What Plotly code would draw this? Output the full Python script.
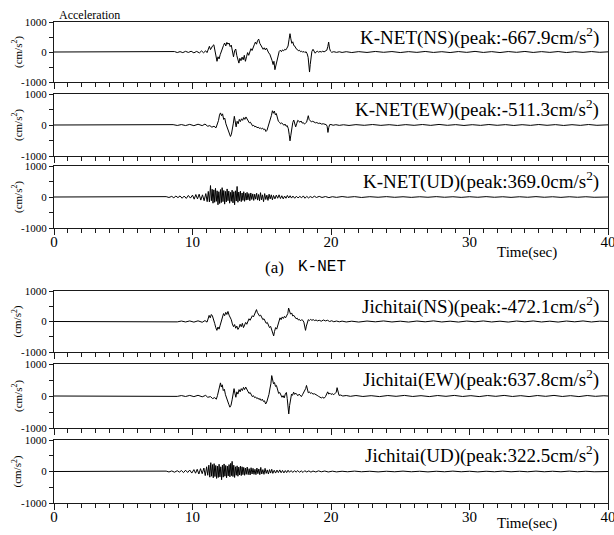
import plotly.graph_objects as go

# ---------------- data (time [s], acceleration [cm/s^2]) ----------------
knet_ns = [(0,0),(7.6,0),(7.9,5),(8.1,-8),(8.3,12),(8.5,-10),(8.7,15),(8.9,-18),(9.1,12),(9.3,-20),(9.5,22),(9.7,-15),(9.9,25),(10.1,-28),(10.3,20),(10.5,-30),(10.65,35),(10.8,-25),(10.95,40),(11.05,-20),
(11.15,120),(11.22,190),(11.3,80),(11.38,160),(11.46,210),(11.54,240),(11.62,60),(11.7,-180),(11.77,-310),(11.84,-160),(11.92,-230),(12.0,-90),(12.08,40),(12.16,130),(12.24,220),(12.32,300),(12.4,200),(12.48,320),(12.56,260),(12.64,300),(12.72,180),(12.8,230),(12.88,-50),(12.96,-160),(13.04,40),(13.12,100),(13.2,-120),(13.28,-280),(13.35,-370),(13.42,-210),(13.5,-290),(13.58,-170),(13.66,-260),(13.74,-110),(13.82,-310),(13.9,-160),(13.98,-20),(14.06,-110),(14.14,30),(14.22,110),(14.3,50),(14.38,180),(14.46,240),(14.54,330),(14.62,260),(14.7,380),(14.78,430),(14.86,290),(14.94,210),(15.02,180),(15.1,90),(15.18,140),(15.26,70),(15.34,130),(15.42,30),(15.5,-30),(15.58,-70),(15.66,-150),(15.74,-280),(15.82,-420),(15.88,-310),(15.95,-590),(16.02,-430),(16.1,-240),(16.18,-90),(16.26,20),(16.34,60),(16.42,10),(16.5,70),(16.58,40),(16.66,90),(16.74,70),(16.82,130),(16.9,200),(16.97,410),(17.04,610),(17.1,440),(17.17,290),(17.24,340),(17.32,210),(17.4,190),(17.48,110),(17.56,90),(17.64,40),(17.72,60),(17.8,10),(17.88,30),(17.96,-10),(18.04,20),(18.12,-20),(18.2,10),(18.28,-60),(18.35,-180),(18.41,-450),(18.45,-668),(18.5,-420),(18.56,-220),(18.62,20),(18.7,90),(18.78,30),(18.86,-40),(18.94,10),(19.02,30),(19.1,-10),(19.2,20),(19.3,0),(19.4,25),(19.5,5),(19.6,30),(19.7,60),(19.77,180),(19.83,330),(19.89,130),(19.96,30),(20.05,-10),(20.2,10),(20.4,-12),(20.6,8),(20.8,-15),(21.1,10),(21.5,-18),(22.0,12),(22.6,-15),(23.2,18),(23.8,-10),(24.4,15),(25.0,-18),(25.6,12),(26.2,-12),(26.8,18),(27.4,-15),(28.0,10),(28.6,-18),(29.2,15),(29.8,-12),(30.4,20),(31.0,-15),(31.6,12),(32.2,-18),(32.8,15),(33.4,-10),(34.0,18),(34.6,-15),(35.2,12),(35.8,-12),(36.4,15),(37.0,-18),(37.6,10),(38.2,-12),(38.8,15),(39.4,-10),(40.0,5)]

knet_ew = [(0,0),(7.6,0),(8.0,6),(8.3,-10),(8.6,12),(8.9,-15),(9.2,14),(9.5,-18),(9.8,20),(10.1,-22),(10.4,25),(10.7,-20),(10.9,30),(11.1,-40),(11.25,-20),(11.4,-70),(11.55,-40),(11.7,-90),(11.8,20),(11.88,150),(11.95,320),(12.02,390),(12.1,300),(12.17,360),(12.25,180),(12.33,220),(12.41,40),(12.5,-80),(12.58,-160),(12.66,-250),(12.74,-370),(12.81,-300),(12.88,-150),(12.95,60),(13.02,280),(13.08,120),(13.15,-60),(13.22,120),(13.3,40),(13.38,180),(13.46,110),(13.54,200),(13.62,150),(13.7,240),(13.78,180),(13.86,260),(13.94,200),(14.02,160),(14.1,70),(14.18,90),(14.26,10),(14.34,-30),(14.42,-10),(14.5,-60),(14.58,-40),(14.66,-90),(14.74,-70),(14.82,-110),(14.9,-90),(14.98,-130),(15.06,-100),(15.14,-150),(15.22,-130),(15.3,-210),(15.38,-170),(15.46,-60),(15.54,40),(15.62,200),(15.7,310),(15.77,460),(15.84,380),(15.91,450),(15.98,330),(16.05,370),(16.12,260),(16.2,120),(16.28,90),(16.36,40),(16.44,70),(16.52,20),(16.6,-10),(16.68,30),(16.76,-40),(16.84,-20),(16.92,-120),(16.98,-300),(17.04,-511),(17.1,-330),(17.17,-100),(17.24,80),(17.31,160),(17.38,60),(17.45,-60),(17.52,40),(17.6,150),(17.68,120),(17.76,90),(17.84,130),(17.92,60),(18.0,80),(18.08,30),(18.16,60),(18.24,90),(18.3,200),(18.36,300),(18.42,180),(18.5,120),(18.58,100),(18.68,120),(18.78,90),(18.88,70),(18.98,80),(19.08,50),(19.2,60),(19.32,30),(19.44,40),(19.56,20),(19.66,10),(19.72,-40),(19.78,-240),(19.84,-80),(19.9,10),(20.0,15),(20.15,-8),(20.35,10),(20.6,-12),(20.9,8),(21.3,-15),(21.8,12),(22.4,-10),(23.0,15),(23.6,-12),(24.2,10),(24.8,-15),(25.4,12),(26.0,-10),(26.6,15),(27.2,-12),(27.8,18),(28.4,-10),(29.0,12),(29.6,-15),(30.2,10),(30.8,-12),(31.4,15),(32.0,-10),(32.6,12),(33.2,-15),(33.8,10),(34.4,-12),(35.0,15),(35.6,-10),(36.2,12),(36.8,-15),(37.4,10),(38.0,-12),(38.6,15),(39.2,-10),(40.0,5)]

knet_ud = [(0,0),(7.4,0),(7.7,8),(7.9,-10),(8.1,12),(8.3,-15),(8.5,20),(8.65,-25),(8.8,30),(8.95,-20),(9.1,35),(9.25,-40),(9.4,30),(9.55,-45),(9.7,50),(9.85,-35),(10.0,60),(10.12,-70),(10.24,80),(10.36,-60),(10.48,90),(10.6,-100),(10.72,70),(10.84,-120),(10.96,110),(11.06,-150),(11.14,180),(11.22,-160),(11.3,369),(11.36,-120),(11.42,250),(11.48,-200),(11.54,230),(11.6,-170),(11.66,280),(11.72,-140),(11.78,200),(11.84,-250),(11.9,170),(11.96,-210),(12.02,240),(12.08,-180),(12.14,300),(12.2,-150),(12.26,210),(12.32,-230),(12.38,180),(12.44,-160),(12.5,260),(12.56,-120),(12.62,190),(12.68,-200),(12.74,150),(12.8,-140),(12.86,220),(12.92,-190),(12.98,170),(13.04,-250),(13.1,200),(13.16,-130),(13.22,340),(13.28,-170),(13.34,160),(13.4,-120),(13.46,190),(13.52,-150),(13.58,130),(13.64,-110),(13.7,170),(13.76,-140),(13.82,120),(13.88,-100),(13.94,150),(14.0,-90),(14.07,110),(14.14,-120),(14.21,130),(14.28,-80),(14.35,100),(14.42,-110),(14.49,90),(14.56,-70),(14.63,120),(14.7,-100),(14.77,80),(14.84,-120),(14.91,140),(14.98,-90),(15.05,70),(15.13,-150),(15.21,110),(15.29,-80),(15.37,60),(15.45,-110),(15.53,90),(15.61,-60),(15.69,70),(15.77,-90),(15.85,50),(15.95,-60),(16.05,60),(16.15,-40),(16.25,70),(16.35,-50),(16.45,40),(16.55,-60),(16.65,30),(16.75,-40),(16.85,50),(16.95,-30),(17.05,40),(17.15,-35),(17.25,30),(17.38,-40),(17.5,25),(17.62,-30),(17.75,20),(17.88,-25),(18.0,35),(18.12,-40),(18.25,20),(18.38,-30),(18.5,15),(18.65,-20),(18.8,25),(18.95,-15),(19.15,20),(19.35,-15),(19.6,15),(19.85,-20),(20.1,10),(20.4,-12),(20.8,15),(21.2,-8),(21.7,12),(22.2,-15),(22.8,10),(23.4,-8),(24.0,12),(24.6,-10),(25.2,8),(25.8,-12),(26.4,8),(27.0,-8),(27.6,12),(28.2,-8),(28.8,8),(29.4,-12),(30.0,8),(30.6,-8),(31.2,12),(31.8,-8),(32.4,8),(33.0,-12),(33.6,8),(34.2,-8),(34.8,12),(35.4,-8),(36.0,8),(36.6,-12),(37.2,8),(37.8,-8),(38.4,8),(39.0,-8),(39.6,8),(40.0,0)]

jichi_ns = [(0,0),(7.6,0),(8.0,5),(8.3,-8),(8.6,10),(8.9,-12),(9.2,15),(9.5,-15),(9.8,18),(10.1,-20),(10.4,22),(10.7,-25),(10.9,30),(11.05,-20),(11.12,80),(11.2,200),(11.28,120),(11.36,230),(11.44,180),(11.52,90),(11.6,-60),(11.68,-200),(11.76,-290),(11.84,-180),(11.92,-250),(12.0,-120),(12.08,20),(12.16,150),(12.24,260),(12.32,190),(12.4,300),(12.48,230),(12.56,330),(12.64,210),(12.72,150),(12.8,60),(12.88,-80),(12.96,-170),(13.04,-100),(13.12,-220),(13.2,-150),(13.28,-260),(13.36,-200),(13.44,-90),(13.52,-170),(13.6,-60),(13.68,-200),(13.76,-110),(13.84,-30),(13.92,-90),(14.0,20),(14.08,90),(14.16,40),(14.24,130),(14.32,190),(14.4,150),(14.48,250),(14.56,330),(14.62,390),(14.68,300),(14.76,250),(14.84,180),(14.92,210),(15.0,130),(15.08,60),(15.16,90),(15.24,-20),(15.32,-60),(15.4,-30),(15.48,-120),(15.56,-200),(15.64,-160),(15.72,-300),(15.8,-380),(15.86,-472),(15.92,-330),(16.0,-200),(16.08,-250),(16.16,-100),(16.24,40),(16.32,120),(16.4,60),(16.48,150),(16.56,100),(16.64,170),(16.72,120),(16.8,200),(16.88,260),(16.94,440),(17.0,330),(17.08,240),(17.16,280),(17.24,180),(17.32,200),(17.4,120),(17.48,90),(17.56,110),(17.64,50),(17.72,70),(17.8,20),(17.88,60),(17.96,40),(18.04,-20),(18.1,-120),(18.16,-290),(18.22,-150),(18.28,-20),(18.36,60),(18.44,30),(18.52,70),(18.62,40),(18.72,60),(18.82,30),(18.92,50),(19.02,20),(19.15,40),(19.3,10),(19.45,50),(19.6,20),(19.75,40),(19.9,0),(20.05,25),(20.2,-8),(20.4,15),(20.6,-10),(20.8,12),(21.1,-15),(21.5,10),(22.0,-18),(22.6,15),(23.2,-10),(23.8,18),(24.4,-15),(25.0,10),(25.6,-18),(26.2,15),(26.8,-10),(27.4,20),(28.0,-15),(28.6,10),(29.2,-18),(29.8,15),(30.4,-10),(31.0,18),(31.6,-15),(32.2,10),(32.8,-18),(33.4,15),(34.0,-10),(34.6,18),(35.2,-15),(35.8,10),(36.4,-18),(37.0,15),(37.6,-10),(38.2,18),(38.8,-15),(39.4,10),(40.0,0)]

jichi_ew = [(0,0),(7.6,0),(8.0,5),(8.3,-8),(8.6,10),(8.9,-12),(9.2,14),(9.5,-16),(9.8,18),(10.1,-20),(10.4,22),(10.7,-25),(10.95,20),(11.1,-40),(11.3,-20),(11.45,-80),(11.6,-50),(11.72,-100),(11.8,10),(11.88,180),(11.95,360),(12.02,410),(12.08,280),(12.15,350),(12.22,170),(12.3,210),(12.38,40),(12.46,-90),(12.54,-180),(12.62,-260),(12.7,-350),(12.78,-290),(12.86,-120),(12.94,80),(13.0,230),(13.06,90),(13.13,-40),(13.2,130),(13.28,60),(13.36,200),(13.44,130),(13.52,230),(13.6,170),(13.68,270),(13.76,200),(13.84,280),(13.92,210),(14.0,170),(14.08,80),(14.16,110),(14.24,20),(14.32,-20),(14.4,10),(14.48,-50),(14.56,-30),(14.64,-80),(14.72,-60),(14.8,-110),(14.88,-80),(14.96,-140),(15.04,-100),(15.12,-170),(15.2,-150),(15.28,-250),(15.36,-190),(15.44,-80),(15.52,50),(15.6,250),(15.66,380),(15.72,638),(15.78,470),(15.85,380),(15.92,420),(15.99,300),(16.06,330),(16.14,180),(16.22,80),(16.3,110),(16.38,30),(16.46,-40),(16.54,10),(16.62,-60),(16.7,60),(16.78,110),(16.84,-80),(16.9,-350),(16.95,-560),(17.01,-300),(17.08,-80),(17.15,60),(17.22,20),(17.3,120),(17.38,50),(17.46,90),(17.54,40),(17.62,10),(17.7,60),(17.78,20),(17.86,-20),(17.94,40),(18.02,100),(18.1,150),(18.17,230),(18.23,330),(18.29,180),(18.36,100),(18.44,130),(18.52,80),(18.6,100),(18.7,60),(18.8,70),(18.9,30),(19.0,20),(19.1,-10),(19.2,-30),(19.3,-60),(19.4,-40),(19.5,-70),(19.6,-20),(19.68,80),(19.76,130),(19.84,60),(19.92,90),(20.0,50),(20.1,70),(20.2,40),(20.3,80),(20.38,120),(20.44,260),(20.5,100),(20.58,20),(20.7,30),(20.85,0),(21.1,15),(21.4,-10),(21.8,15),(22.3,-15),(22.9,10),(23.5,-18),(24.1,15),(24.7,-10),(25.3,18),(25.9,-15),(26.5,10),(27.1,-18),(27.7,15),(28.3,-10),(28.9,18),(29.5,-15),(30.1,10),(30.7,-18),(31.3,15),(31.9,-10),(32.5,18),(33.1,-15),(33.7,10),(34.3,-18),(34.9,15),(35.5,-10),(36.1,18),(36.7,-15),(37.3,10),(37.9,-18),(38.5,15),(39.1,-10),(39.7,8),(40.0,0)]

jichi_ud = [(0,0),(7.3,0),(7.6,6),(7.85,-8),(8.1,12),(8.3,-15),(8.5,18),(8.7,-22),(8.9,25),(9.05,-20),(9.2,30),(9.35,-35),(9.5,40),(9.65,-30),(9.8,45),(9.95,-50),(10.1,60),(10.22,-55),(10.34,70),(10.46,-80),(10.58,90),(10.7,-70),(10.82,110),(10.92,-130),(11.02,150),(11.1,-120),(11.18,200),(11.25,-180),(11.32,280),(11.38,-150),(11.44,220),(11.5,-200),(11.56,250),(11.62,-160),(11.68,190),(11.74,-220),(11.8,170),(11.86,-190),(11.92,230),(11.98,-170),(12.04,150),(12.1,-260),(12.16,200),(12.22,-180),(12.28,240),(12.34,-150),(12.4,190),(12.46,-200),(12.52,170),(12.58,-140),(12.64,220),(12.7,-170),(12.76,260),(12.82,-130),(12.86,322),(12.92,-160),(12.98,200),(13.04,-190),(13.1,150),(13.16,-120),(13.22,180),(13.28,-150),(13.34,140),(13.4,-110),(13.46,170),(13.52,-130),(13.58,150),(13.64,-100),(13.7,130),(13.76,-120),(13.82,110),(13.88,-90),(13.95,140),(14.02,-100),(14.09,90),(14.16,-110),(14.23,120),(14.3,-80),(14.37,100),(14.44,-90),(14.51,70),(14.58,-100),(14.65,110),(14.72,-70),(14.79,80),(14.86,-100),(14.93,130),(15.0,-80),(15.08,60),(15.16,-90),(15.24,100),(15.32,-60),(15.4,50),(15.48,-80),(15.56,60),(15.64,-50),(15.72,70),(15.8,-60),(15.9,40),(16.0,-50),(16.1,45),(16.2,-35),(16.3,50),(16.4,-40),(16.5,35),(16.6,-45),(16.7,30),(16.8,-35),(16.9,40),(17.0,-25),(17.12,30),(17.24,-30),(17.36,25),(17.48,-20),(17.6,30),(17.72,-25),(17.85,20),(17.98,-30),(18.1,25),(18.25,-15),(18.4,20),(18.55,-20),(18.7,15),(18.9,-15),(19.1,20),(19.3,-10),(19.55,15),(19.8,-15),(20.1,10),(20.4,-12),(20.8,8),(21.2,-8),(21.7,12),(22.2,-8),(22.8,8),(23.4,-12),(24.0,8),(24.6,-8),(25.2,12),(25.8,-8),(26.4,8),(27.0,-12),(27.6,8),(28.2,-8),(28.8,12),(29.4,-8),(30.0,8),(30.6,-12),(31.2,8),(31.8,-8),(32.4,12),(33.0,-8),(33.6,8),(34.2,-8),(34.8,12),(35.4,-8),(36.0,8),(36.6,-8),(37.2,12),(37.8,-8),(38.4,8),(39.0,-8),(39.6,8),(40.0,0)]

series = [knet_ns, knet_ew, knet_ud, jichi_ns, jichi_ew, jichi_ud]
labels = ["K-NET(NS)(peak:-667.9cm/s<sup>2</sup>)",
          "K-NET(EW)(peak:-511.3cm/s<sup>2</sup>)",
          "K-NET(UD)(peak:369.0cm/s<sup>2</sup>)",
          "Jichitai(NS)(peak:-472.1cm/s<sup>2</sup>)",
          "Jichitai(EW)(peak:637.8cm/s<sup>2</sup>)",
          "Jichitai(UD)(peak:322.5cm/s<sup>2</sup>)"]
x_ticks = [0, 10, 20, 30, 40]
y_ticks = [-1000, 0, 1000]
y_ticktext = ["-1000", "0", "1000"]

# ---------------- layout geometry ----------------
W, H = 614, 535
panel_px = [(22, 82), (94, 156), (166, 228), (291, 352), (364, 428), (440, 503)]
x_px = (54, 608)
SERIF = "Liberation Serif"
INK = "#1a1a1a"

def py(p):
    return 1 - p / H

def px(p):
    return p / W

fig = go.Figure()
layout = dict(width=W, height=H, margin=dict(l=0, r=0, t=0, b=0),
              paper_bgcolor="white", plot_bgcolor="white", showlegend=False,
              font=dict(family=SERIF, color="black"))
annotations = []

for i, (data, lab, (top, bot)) in enumerate(zip(series, labels, panel_px)):
    n = i + 1
    sx = "" if n == 1 else str(n)
    t = [p[0] for p in data]
    a = [p[1] for p in data]
    fig.add_trace(go.Scatter(x=t, y=a, mode="lines", xaxis="x" + sx, yaxis="y" + sx,
                             line=dict(color="black", width=1), hoverinfo="skip"))
    layout["xaxis" + sx] = dict(
        domain=[px(x_px[0]), px(x_px[1])], range=[0, 40], anchor="y" + sx,
        showline=True, linecolor=INK, linewidth=1.3, mirror=True,
        tickmode="array", tickvals=x_ticks, ticks="outside", ticklen=6, tickwidth=1, tickcolor=INK,
        minor=dict(tickmode="linear", tick0=0, dtick=1, ticks="outside", ticklen=3.5,
                   tickwidth=1, tickcolor=INK, showgrid=False),
        showticklabels=(n in (3, 6)), tickfont=dict(family=SERIF, size=15, color="black"),
        ticklabeloverflow="allow", ticklabelstandoff=-6,
        showgrid=False, zeroline=False, automargin=False, fixedrange=True)
    layout["yaxis" + sx] = dict(
        domain=[py(bot), py(top)], range=[-1000, 1000], anchor="x" + sx,
        showline=True, linecolor=INK, linewidth=1.3, mirror=True,
        tickmode="array", tickvals=y_ticks, ticktext=y_ticktext,
        ticks="outside", ticklen=4, tickwidth=1, tickcolor=INK,
        minor=dict(tickmode="array", tickvals=[-500, 500], ticks="outside", ticklen=4,
                   tickwidth=1, tickcolor=INK, showgrid=False),
        tickfont=dict(family=SERIF, size=11, color="black"), ticklabeloverflow="allow",
        showgrid=False, zeroline=False, automargin=False, fixedrange=True)
    annotations.append(dict(xref="x" + sx + " domain", yref="y" + sx + " domain",
                            x=0.988, y=1.0, xanchor="right", yanchor="top", showarrow=False,
                            text=lab, font=dict(family=SERIF, size=19, color="black")))
    annotations.append(dict(xref="paper", yref="paper", x=px(17), y=py((top + bot) / 2),
                            xanchor="center", yanchor="middle", showarrow=False, textangle=-90,
                            text="(cm/s<sup>2</sup>)", font=dict(family=SERIF, size=11, color="black")))

annotations += [
    dict(xref="paper", yref="paper", x=px(57), y=py(15), xanchor="left", yanchor="middle",
         showarrow=False, text="Acceleration", font=dict(family=SERIF, size=12, color="black")),
    dict(xref="paper", yref="paper", x=px(527), y=py(252), xanchor="center", yanchor="middle",
         showarrow=False, text="Time(sec)", font=dict(family=SERIF, size=15, color="black")),
    dict(xref="paper", yref="paper", x=px(527), y=py(523), xanchor="center", yanchor="middle",
         showarrow=False, text="Time(sec)", font=dict(family=SERIF, size=15, color="black")),
    dict(xref="paper", yref="paper", x=px(286), y=py(267), xanchor="right", yanchor="middle",
         showarrow=False, text="(a)", font=dict(family=SERIF, size=17, color="black")),
    dict(xref="paper", yref="paper", x=px(296), y=py(267), xanchor="left", yanchor="middle",
         showarrow=False, text="K-NET", font=dict(family="Liberation Mono", size=16, color="black")),
]
layout["annotations"] = annotations
fig.update_layout(**layout)
fig.write_html("out.html")
